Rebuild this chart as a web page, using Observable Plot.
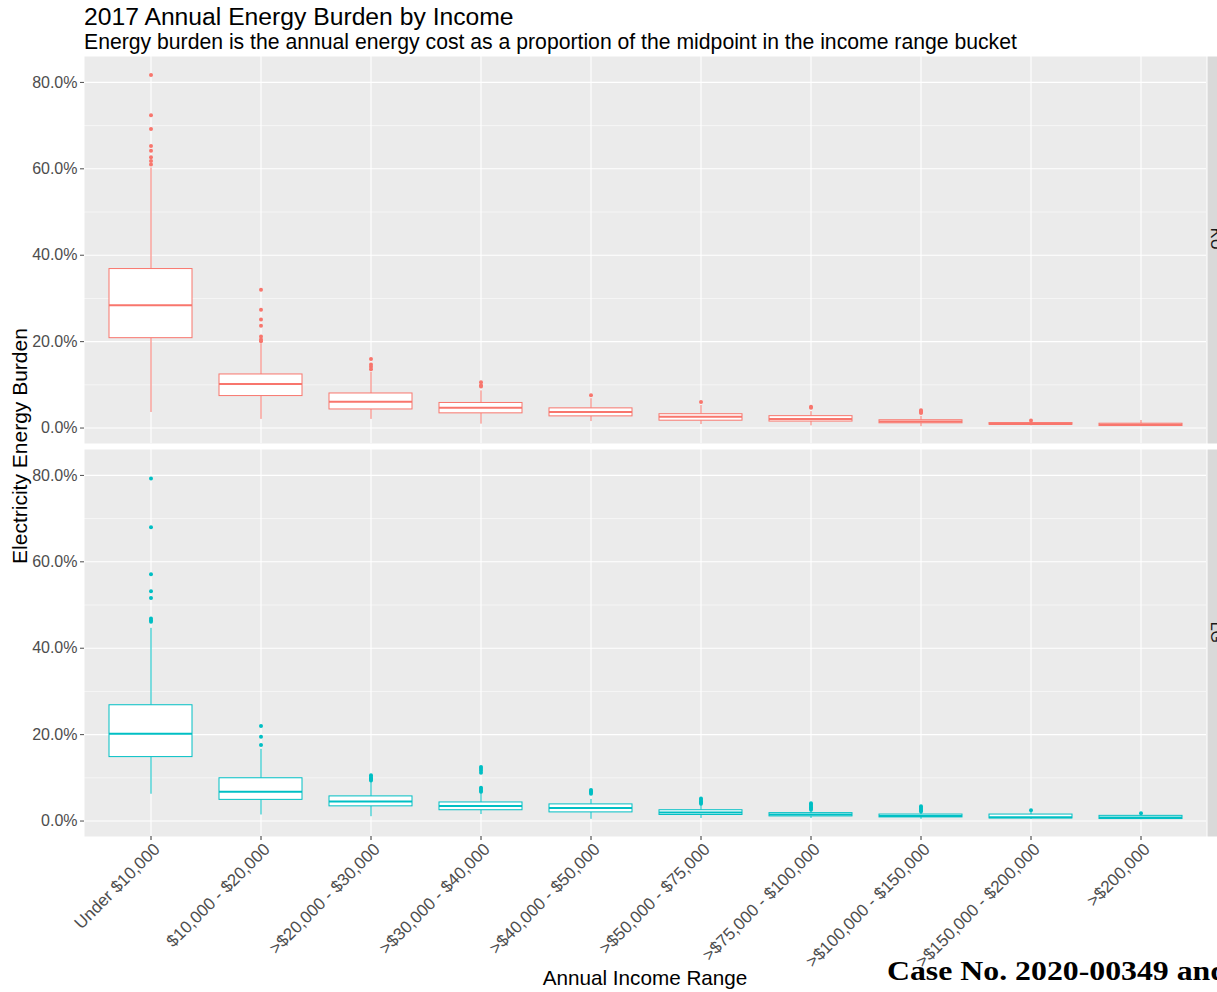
<!DOCTYPE html>
<html>
<head>
<meta charset="utf-8">
<script src="https://cdn.jsdelivr.net/npm/d3@7"></script>
<script src="https://cdn.jsdelivr.net/npm/@observablehq/plot@0.6"></script>
<style>
html, body { margin: 0; padding: 0; background: #fff; overflow: hidden; width: 1217px; height: 992px; }
#wrap { position: relative; width: 1217px; height: 992px; font-family: "Liberation Sans", Arial, sans-serif; }
#chart { position: absolute; left: 0; top: 55px; }
#chart svg { overflow: hidden; max-width: none; }
#overlay { position: absolute; left: 0; top: 0; pointer-events: none; }
</style>
</head>
<body>
<div id="wrap">
  <div id="chart"></div>
  <svg id="overlay" width="1217" height="992"></svg>
</div>
<script>
// ---------- data ----------
const categories = ["Under $10,000", "$10,000 - $20,000", ">$20,000 - $30,000", ">$30,000 - $40,000",
  ">$40,000 - $50,000", ">$50,000 - $75,000", ">$75,000 - $100,000", ">$100,000 - $150,000",
  ">$150,000 - $200,000", ">$200,000"];
const panels = ["KU", "LG"];

// KU box statistics (fractions)
const kuLow  = [0.036, 0.020, 0.020, 0.009, 0.015, 0.008, 0.005, 0.003, 0.005, 0.003];
const kuQ1   = [0.208, 0.074, 0.043, 0.034, 0.027, 0.017, 0.015, 0.011, 0.0076, 0.0046];
const kuMed  = [0.284, 0.102, 0.061, 0.047, 0.037, 0.026, 0.021, 0.015, 0.0095, 0.0076];
const kuQ3   = [0.368, 0.124, 0.080, 0.058, 0.0455, 0.032, 0.0275, 0.018, 0.0115, 0.010];
const kuHigh = [0.602, 0.195, 0.129, 0.086, 0.068, 0.052, 0.038, 0.027, 0.015, 0.0175];
const kuOutliers = [
  [0.817, 0.724, 0.692, 0.653, 0.642, 0.627, 0.618, 0.610],
  [0.320, 0.274, 0.251, 0.237, 0.212, 0.205, 0.201],
  [0.160, 0.147, 0.142, 0.136],
  [0.106, 0.099, 0.096],
  [0.076],
  [0.060],
  [0.049, 0.047],
  [0.041, 0.039, 0.037, 0.035],
  [0.0175],
  []
];

// LG box statistics (fractions)
const lgLow  = [0.062, 0.014, 0.010, 0.015, 0.004, 0.006, 0.006, 0.004, 0.004, 0.003];
const lgQ1   = [0.148, 0.049, 0.034, 0.025, 0.020, 0.014, 0.0107, 0.0084, 0.006, 0.0046];
const lgMed  = [0.202, 0.068, 0.0455, 0.035, 0.030, 0.020, 0.015, 0.0115, 0.009, 0.0084];
const lgQ3   = [0.268, 0.099, 0.057, 0.043, 0.0385, 0.025, 0.0183, 0.015, 0.015, 0.012];
const lgHigh = [0.446, 0.166, 0.092, 0.065, 0.050, 0.037, 0.024, 0.021, 0.020, 0.016];
const lgOutliers = [
  [0.793, 0.680, 0.571, 0.532, 0.516, 0.469, 0.465, 0.461],
  [0.220, 0.195, 0.176],
  [0.106, 0.102, 0.099, 0.096, 0.094],
  [0.125, 0.121, 0.117, 0.112, 0.077, 0.074, 0.070, 0.068],
  [0.072, 0.069, 0.066, 0.063],
  [0.052, 0.049, 0.046, 0.043, 0.040],
  [0.041, 0.038, 0.035, 0.032, 0.029, 0.026],
  [0.034, 0.031, 0.028, 0.025, 0.022],
  [0.025],
  [0.018]
];

const majorTicks = [0, 0.2, 0.4, 0.6, 0.8];
const minorTicks = [0.1, 0.3, 0.5, 0.7];
const panelColors = ["#F8766D", "#00BFC4"];

// ---------- tables ----------
const stats = [
  ["KU", kuLow, kuQ1, kuMed, kuQ3, kuHigh],
  ["LG", lgLow, lgQ1, lgMed, lgQ3, lgHigh]
];
const boxes = [];
for (const [panel, lo, q1, med, q3, hi] of stats) {
  categories.forEach((cat, i) => boxes.push({panel, cat, lo: lo[i], q1: q1[i], med: med[i], q3: q3[i], hi: hi[i]}));
}
const outliers = [];
[["KU", kuOutliers], ["LG", lgOutliers]].forEach(([panel, arr]) => {
  arr.forEach((vals, i) => vals.forEach(v => outliers.push({panel, cat: categories[i], v})));
});

// ---------- chart ----------
const chart = Plot.plot({
  width: 1217,
  height: 937,
  marginLeft: 84,
  marginRight: 11,
  marginTop: 0,
  marginBottom: 156,
  style: {fontFamily: "Liberation Sans, Arial, sans-serif", background: "white", overflow: "hidden"},
  x: {type: "band", domain: categories, paddingInner: 0.25, paddingOuter: 0.225, axis: null},
  y: {domain: [-0.0358, 0.860], axis: null},
  fy: {domain: panels, paddingInner: 0.0153, paddingOuter: 0, axis: null},
  color: {domain: panels, range: panelColors},
  marks: [
    Plot.frame({fill: "#EBEBEB", stroke: null}),
    Plot.ruleY(minorTicks, {stroke: "white", strokeWidth: 0.55}),
    Plot.ruleY(majorTicks, {stroke: "white", strokeWidth: 1.1}),
    Plot.ruleX(categories, {stroke: "white", strokeWidth: 1.1}),
    Plot.ruleX(boxes, {x: "cat", y1: "lo", y2: "q1", fy: "panel", stroke: "panel", strokeWidth: 1}),
    Plot.ruleX(boxes, {x: "cat", y1: "q3", y2: "hi", fy: "panel", stroke: "panel", strokeWidth: 1}),
    Plot.barY(boxes, {x: "cat", y1: "q1", y2: "q3", fy: "panel", fill: "white", stroke: "panel", strokeWidth: 1}),
    Plot.tickY(boxes, {x: "cat", y: "med", fy: "panel", stroke: "panel", strokeWidth: 2}),
    Plot.dot(outliers, {x: "cat", y: "v", fy: "panel", fill: "panel", r: 2, stroke: null}),
    Plot.frame({fill: "#D9D9D9", stroke: null, insetLeft: 1123, insetRight: -40}),
    Plot.text(panels, {fy: d => d, text: d => d, frameAnchor: "right", dx: 10, rotate: 90,
      fontSize: 16, fill: "#1A1A1A"}),
    Plot.axisY({ticks: majorTicks, tickFormat: d3.format(".1%"), tickSize: 4, tickPadding: 3,
      fontSize: 16, color: "#4D4D4D", label: null}),
    // x ticks only
    Plot.axisX({tickSize: 4, tickFormat: () => "", color: "#333333", label: null}),
    // x tick labels, rotated
    Plot.axisX({tickRotate: -45, tickSize: 0, tickPadding: 7, fontSize: 17, dx: 6, dy: 3,
      color: "#4D4D4D", label: null})
  ]
});
document.getElementById("chart").appendChild(chart);

// ---------- titles and labels ----------
const ov = d3.select("#overlay");
const ff = "Liberation Sans, Arial, sans-serif";
ov.append("text").attr("x", 84).attr("y", 25).attr("font-family", ff).attr("font-size", 24.7)
  .attr("fill", "#000").text("2017 Annual Energy Burden by Income");
ov.append("text").attr("x", 84).attr("y", 48.5).attr("font-family", ff).attr("font-size", 21.2)
  .attr("fill", "#000").text("Energy burden is the annual energy cost as a proportion of the midpoint in the income range bucket");
ov.append("text").attr("transform", "translate(27,446) rotate(-90)").attr("text-anchor", "middle")
  .attr("font-family", ff).attr("font-size", 21).attr("fill", "#000").text("Electricity Energy Burden");
ov.append("text").attr("x", 645).attr("y", 985).attr("text-anchor", "middle")
  .attr("font-family", ff).attr("font-size", 20.7).attr("fill", "#000").text("Annual Income Range");
ov.append("text").attr("x", 887).attr("y", 980).attr("font-family", "Liberation Serif, Times New Roman, serif")
  .attr("font-weight", "bold").attr("font-size", 27).attr("textLength", 341).attr("lengthAdjust", "spacingAndGlyphs")
  .attr("fill", "#000").text("Case No. 2020-00349 and");
</script>
</body>
</html>
